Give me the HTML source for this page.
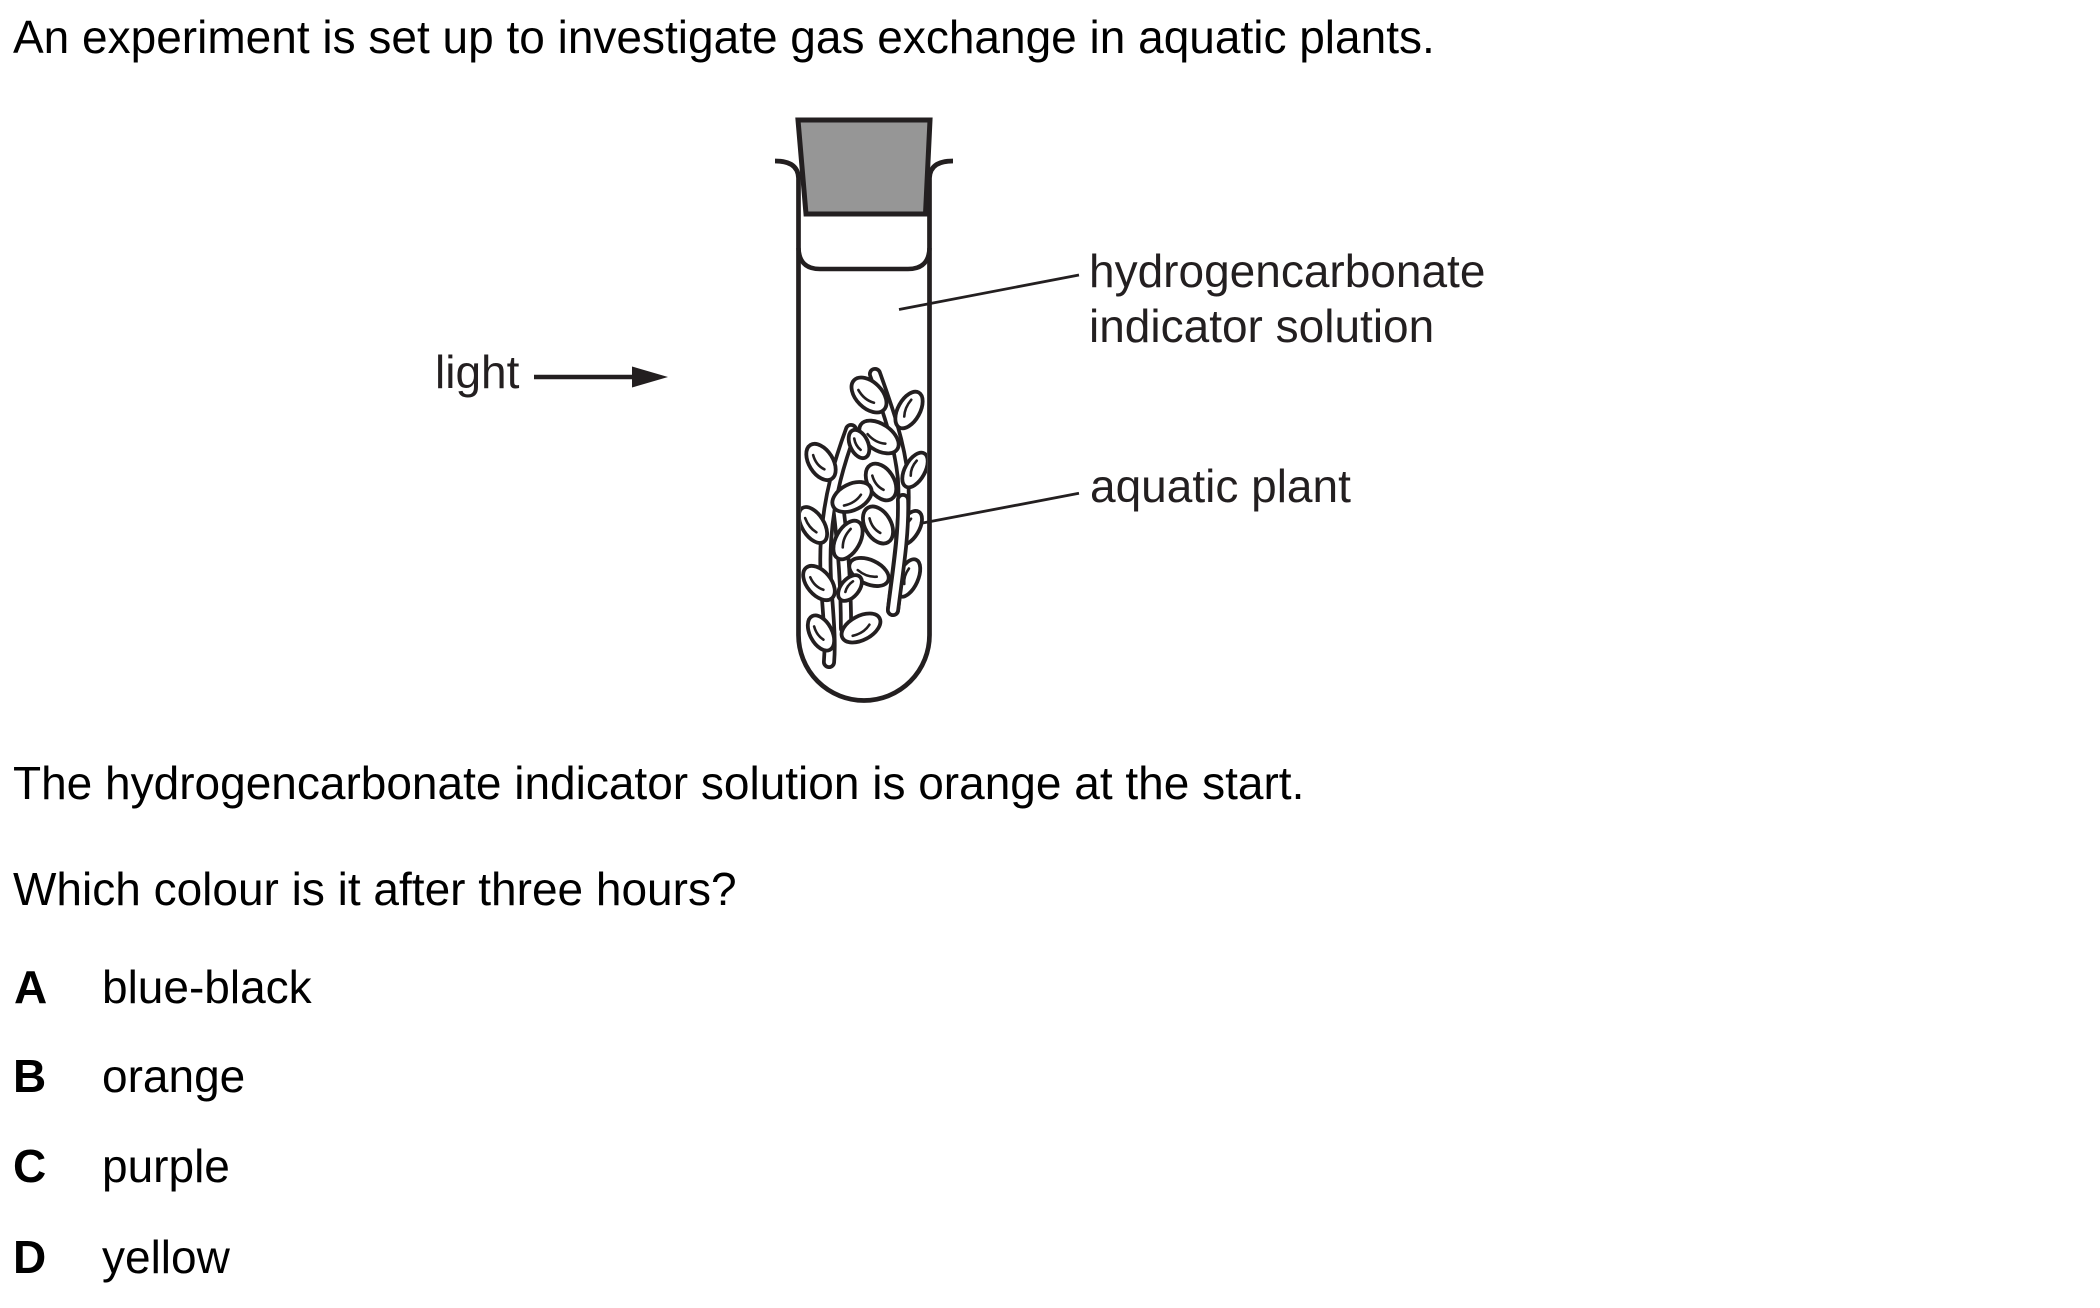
<!DOCTYPE html>
<html>
<head>
<meta charset="utf-8">
<style>
  html, body { margin: 0; padding: 0; background: #ffffff; }
  body { width: 2100px; height: 1308px; overflow: hidden; }
  svg { display: block; }
  .t { font-family: "Liberation Sans", Arial, sans-serif; font-size: 46px; fill: #000; }
  .lbl { font-family: "Liberation Sans", Arial, sans-serif; font-size: 46px; fill: #231f20; }
  .b { font-weight: bold; }
</style>
</head>
<body>
<svg width="2100" height="1308" viewBox="0 0 2100 1308" xmlns="http://www.w3.org/2000/svg">
  <defs>
    <clipPath id="tubeIn">
      <path d="M801,170 L927,170 L927,635 A63,63 0 0 1 801,635 Z"/>
    </clipPath>
  </defs>

  <!-- Main text -->
  <text class="t" x="13" y="53">An experiment is set up to investigate gas exchange in aquatic plants.</text>

  <!-- light arrow -->
  <text class="lbl" x="435" y="388">light</text>
  <line x1="534" y1="377" x2="640" y2="377" stroke="#231f20" stroke-width="4.5"/>
  <polygon points="632,366.5 668,377 632,387.5" fill="#231f20"/>

  <!-- Plant (clipped to tube interior) -->
  <g clip-path="url(#tubeIn)" stroke-linecap="round" stroke-linejoin="round" fill="none">
    <!-- stems: dark outline -->
    <g stroke="#231f20" stroke-width="14">
      <path d="M875,374 C886,405 899,440 903,478 C906,520 898,565 893,610"/>
      <path d="M851,430 C840,460 829,495 826,540 C823,585 832,625 829,662"/>
      <path d="M838,505 C843,545 846,590 846,628"/>
    </g>
    <g stroke="#ffffff" stroke-width="6.5">
      <path d="M875,374 C886,405 899,440 903,478 C906,520 898,565 893,610"/>
      <path d="M851,430 C840,460 829,495 826,540 C823,585 832,625 829,662"/>
      <path d="M838,505 C843,545 846,590 846,628"/>
    </g>

    <!-- leaves -->
    <g stroke="#231f20" stroke-width="3.8">
      <g transform="translate(869,395) rotate(45)"><ellipse rx="21" ry="13" fill="#fff"/><path d="M-11,4 Q0,7 9,2" stroke-width="2.6"/></g>
      <g transform="translate(909,410) rotate(119)"><ellipse rx="20" ry="11" fill="#fff"/><path d="M-10,3 Q0,5 8,1" stroke-width="2.6"/></g>
      <g transform="translate(879,437) rotate(34)"><ellipse rx="22" ry="13" fill="#fff"/><path d="M-11,4 Q0,7 9,2" stroke-width="2.6"/></g>
      <g transform="translate(859,444) rotate(65)"><ellipse rx="15" ry="9" fill="#fff"/><path d="M-7,2 Q0,4 6,1" stroke-width="2.6"/></g>
      <g transform="translate(821,462) rotate(58)"><ellipse rx="20" ry="12" fill="#fff"/><path d="M-10,3 Q0,6 8,1" stroke-width="2.6"/></g>
      <g transform="translate(915,470) rotate(119)"><ellipse rx="19" ry="10" fill="#fff"/><path d="M-9,3 Q0,5 7,1" stroke-width="2.6"/></g>
      <g transform="translate(881,482) rotate(58)"><ellipse rx="20" ry="13" fill="#fff"/><path d="M-10,4 Q0,7 8,2" stroke-width="2.6"/></g>
      <g transform="translate(852,497) rotate(-27)"><ellipse rx="21" ry="13" fill="#fff"/><path d="M-11,4 Q0,7 9,2" stroke-width="2.6"/></g>
      <g transform="translate(813,525) rotate(58)"><ellipse rx="20" ry="11" fill="#fff"/><path d="M-10,3 Q0,5 8,1" stroke-width="2.6"/></g>
      <g transform="translate(878,525) rotate(60)"><ellipse rx="20" ry="13" fill="#fff"/><path d="M-10,4 Q0,7 8,2" stroke-width="2.6"/></g>
      <g transform="translate(909,528) rotate(121)"><ellipse rx="19" ry="10" fill="#fff"/><path d="M-9,3 Q0,5 7,1" stroke-width="2.6"/></g>
      <g transform="translate(848,540) rotate(119)"><ellipse rx="21" ry="12" fill="#fff"/><path d="M-11,3 Q0,6 9,1" stroke-width="2.6"/></g>
      <g transform="translate(869,572) rotate(25)"><ellipse rx="21" ry="12" fill="#fff"/><path d="M-11,3 Q0,6 9,1" stroke-width="2.6"/></g>
      <g transform="translate(908,578) rotate(114)"><ellipse rx="20" ry="10" fill="#fff"/><path d="M-9,3 Q0,5 7,1" stroke-width="2.6"/></g>
      <g transform="translate(819,583) rotate(50)"><ellipse rx="20" ry="12" fill="#fff"/><path d="M-10,3 Q0,6 8,1" stroke-width="2.6"/></g>
      <g transform="translate(850,588) rotate(130)"><ellipse rx="15" ry="9" fill="#fff"/><path d="M-7,2 Q0,4 6,1" stroke-width="2.6"/></g>
      <g transform="translate(861,628) rotate(-28)"><ellipse rx="21" ry="12" fill="#fff"/><path d="M-11,3 Q0,6 9,1" stroke-width="2.6"/></g>
      <g transform="translate(821,633) rotate(62)"><ellipse rx="19" ry="11" fill="#fff"/><path d="M-9,3 Q0,5 7,1" stroke-width="2.6"/></g>
    </g>

    <!-- right stem lower part redrawn on top for overlap -->
    <g stroke="#231f20" stroke-width="14">
      <path d="M903,500 C904,535 898,570 893,610"/>
    </g>
    <g stroke="#ffffff" stroke-width="6.5">
      <path d="M903,500 C904,535 898,570 893,610"/>
    </g>
  </g>

  <!-- Tube -->
  <path d="M775,161 C788,161 798,165 798.5,178 L798.5,635 A65.5,65.5 0 0 0 929.5,635 L929.5,178 C930,165 940,161 953,161"
        fill="none" stroke="#231f20" stroke-width="4.7" stroke-linejoin="round"/>
  <!-- meniscus -->
  <path d="M798.5,248 C799,262 806,269 820,269 L908,269 C922,269 929,262 929.5,248"
        fill="none" stroke="#231f20" stroke-width="4.5"/>
  <!-- stopper -->
  <polygon points="798,120 930,120 925.5,214 806,214" fill="#969696" stroke="#231f20" stroke-width="5" stroke-linejoin="miter"/>

  <!-- label lines -->
  <line x1="899" y1="309.5" x2="1079" y2="275" stroke="#231f20" stroke-width="2.8"/>
  <line x1="920" y1="523.5" x2="1079" y2="493.3" stroke="#231f20" stroke-width="2.8"/>

  <!-- labels -->
  <text class="lbl" x="1089" y="287">hydrogencarbonate</text>
  <text class="lbl" x="1089" y="342">indicator solution</text>
  <text class="lbl" x="1090" y="502">aquatic plant</text>

  <!-- Question text -->
  <text class="t" x="13" y="799">The hydrogencarbonate indicator solution is orange at the start.</text>
  <text class="t" x="13" y="905">Which colour is it after three hours?</text>

  <!-- Options -->
  <text class="t b" x="14" y="1003">A</text>
  <text class="t" x="102" y="1003">blue-black</text>
  <text class="t b" x="13" y="1092">B</text>
  <text class="t" x="102" y="1092">orange</text>
  <text class="t b" x="13" y="1182">C</text>
  <text class="t" x="102" y="1182">purple</text>
  <text class="t b" x="13" y="1273">D</text>
  <text class="t" x="102" y="1273">yellow</text>
</svg>
</body>
</html>
